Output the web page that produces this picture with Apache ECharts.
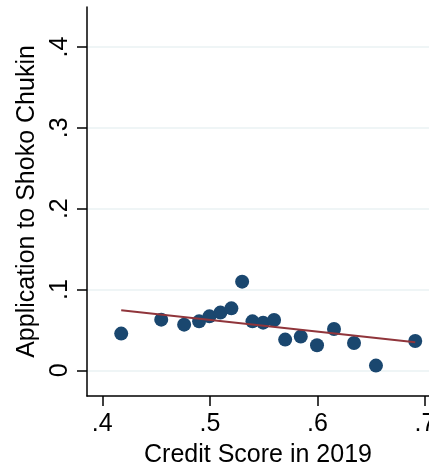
<!DOCTYPE html>
<html><head><meta charset="utf-8">
<script src="https://cdn.jsdelivr.net/npm/echarts@6/dist/echarts.min.js"></script>
<style>html,body{margin:0;padding:0;background:#fff}#c{width:429px;height:466px}</style>
</head><body><div id="c"></div>
<script>
const creditScore = [0.4176,0.4548,0.4761,0.490,0.4996,0.5098,0.520,0.530,0.5396,0.5495,0.5597,0.570,0.5845,0.5996,0.6154,0.634,0.6544,0.6909];
const application = [0.0454,0.0627,0.0565,0.0606,0.0668,0.0714,0.0767,0.1097,0.0606,0.059,0.0623,0.038,0.0417,0.031,0.0511,0.0338,0.0058,0.0363];
const fitX = [0.4176, 0.6909];
const fitY = [0.0743, 0.0347];
const xTicks = [0.4,0.5,0.6,0.7];
const yTicks = [0,0.1,0.2,0.3,0.4];
const fmt = v => { const s = (Math.round(v*10)/10).toString(); return s === '0' ? '0' : s.replace(/^0/, ''); };
const font = 'Liberation Sans, Arial, sans-serif';
const chart = echarts.init(document.getElementById('c'));
chart.setOption({
  animation:false,
  grid:{left:87,right:0,top:7,bottom:70,containLabel:false,outerBoundsMode:'none'},
  xAxis:{type:'value',min:0.3858,max:0.7037,
    name:'Credit Score in 2019',nameLocation:'middle',nameGap:47,
    nameTextStyle:{fontFamily:font,fontSize:25,color:'#000'},
    axisLine:{show:true,onZero:false,lineStyle:{color:'#000',width:1.5}},
    axisTick:{show:true,length:10,lineStyle:{color:'#000',width:1.5},customValues:xTicks},
    axisLabel:{fontFamily:font,fontSize:25,color:'#000',margin:16,customValues:xTicks,formatter:fmt,hideOverlap:false},
    splitLine:{show:false}},
  yAxis:{type:'value',min:-0.0318,max:0.4496,
    name:'Application to Shoko Chukin',nameLocation:'middle',nameGap:36,
    nameTextStyle:{fontFamily:font,fontSize:25,color:'#000'},
    axisLine:{show:true,onZero:false,lineStyle:{color:'#000',width:1.5}},
    axisTick:{show:true,length:10,lineStyle:{color:'#000',width:1.5},customValues:yTicks},
    axisLabel:{fontFamily:font,fontSize:25,color:'#000',margin:14,rotate:90,customValues:yTicks,formatter:fmt},
    splitLine:{show:true,lineStyle:{color:'#eaf2f3',width:1.7}}},
  series:[
    {type:'scatter',data:creditScore.map((x,i)=>[x,application[i]]),symbolSize:14,
     itemStyle:{color:'#1a476f',opacity:1},z:3},
    {type:'line',data:fitX.map((x,i)=>[x,fitY[i]]),symbol:'none',
     lineStyle:{color:'#90353b',width:2},z:4}
  ]
});
</script></body></html>
